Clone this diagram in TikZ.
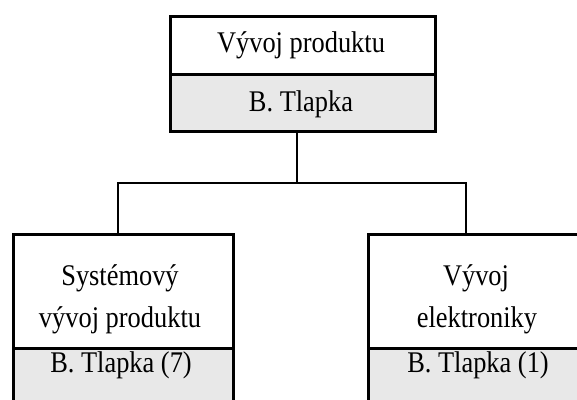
\documentclass[tikz,border=0pt]{standalone}
\usepackage{fontspec}
\setmainfont{Liberation Serif}
\definecolor{headgray}{HTML}{E8E8E8}
% labels are set tall and slightly narrowed
\newcommand{\narrowtext}[1]{\scalebox{0.88}[1]{#1}}
\begin{document}
\begin{tikzpicture}[x=1pt,y=-1pt,
  cell/.style={draw=black, line width=3pt, inner sep=0pt, anchor=north west},
  namecell/.style={cell, fill=white},
  headcell/.style={cell, fill=headgray},
  lbl/.style={anchor=base, inner sep=0pt, font=\fontsize{30}{36}\selectfont},
  link/.style={draw=black, line width=1.6pt}]
\useasboundingbox (0,0) rectangle (577,399);
\clip (0,0) rectangle (577,399);

% top unit
\node[namecell, minimum width=265pt, minimum height=58.5pt] (top1) at (168.5,14.5) {};
\node[headcell, minimum width=265pt, minimum height=57pt] (top2) at (168.5,73) {};
\node[lbl] (toptitle) at (301,52.5) {\narrowtext{Vývoj produktu}};
\node[lbl] (tophead) at (301,111) {\narrowtext{B. Tlapka}};

% left unit
\node[namecell, minimum width=220pt, minimum height=114pt] (left1) at (12,233) {};
\node[headcell, minimum width=220pt, minimum height=80pt] (left2) at (12,347) {};
\node[lbl] (lefttitleA) at (120,285) {\narrowtext{Systémový}};
\node[lbl] (lefttitleB) at (120,327) {\narrowtext{vývoj produktu}};
\node[lbl] (lefthead) at (121,372) {\narrowtext{B. Tlapka (7)}};

% right unit
\node[namecell, minimum width=220pt, minimum height=114pt] (right1) at (367,233) {};
\node[headcell, minimum width=220pt, minimum height=80pt] (right2) at (367,347) {};
\node[lbl] (righttitleA) at (476,285) {\narrowtext{Vývoj}};
\node[lbl] (righttitleB) at (477,327) {\narrowtext{elektroniky}};
\node[lbl] (righthead) at (478,372) {\narrowtext{B. Tlapka (1)}};

% connectors
\coordinate (trunk) at (297,130);
\coordinate (busL) at (118,183);
\coordinate (busR) at (466,183);
\draw[link] (top2.south -| trunk) -- (trunk |- busL);
\draw[link] (left1.north -| busL) |- (busR) -- (right1.north -| busR);
\end{tikzpicture}
\end{document}
